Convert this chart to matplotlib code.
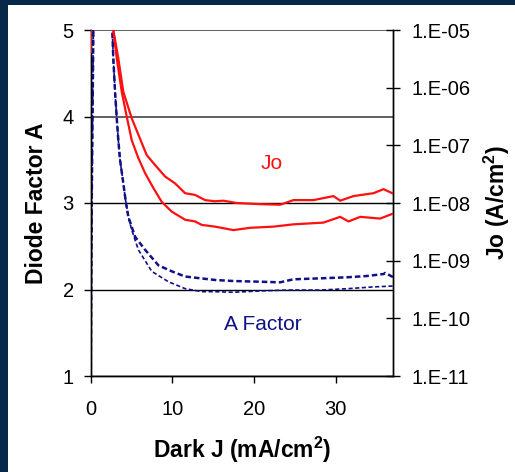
import matplotlib
matplotlib.use("Agg")
import matplotlib.pyplot as plt
import numpy as np
from matplotlib.patches import Rectangle
from matplotlib.ticker import FixedLocator, FuncFormatter, NullLocator

plt.rcParams['font.family'] = ['Liberation Sans', 'DejaVu Sans']
plt.rcParams['mathtext.fontset'] = 'custom'
plt.rcParams['mathtext.rm'] = 'Liberation Sans:bold'
plt.rcParams['mathtext.bf'] = 'Liberation Sans:bold'
plt.rcParams['mathtext.it'] = 'Liberation Sans:bold'

# ---- data ----
# A factor curves (left axis)
a1_x = [0.0, 0.15, 0.35, 0.45, 2.55, 2.67, 2.79, 3.00, 3.21, 3.40, 3.61, 4.01, 4.31, 4.63,
        5.45, 6.67, 8.30, 9.94, 11.57, 15.24, 17.48, 20.75, 23.19, 24.82, 28.08,
        31.36, 33.81, 35.84, 36.05, 37.06]
a1_y = [0.5, 3.0, 5.0, 7.0, 7.0, 5.0, 4.67, 4.29, 3.98, 3.73, 3.50, 3.23, 3.02, 2.84,
        2.61, 2.46, 2.28, 2.21, 2.15, 2.11, 2.098, 2.090, 2.083, 2.118, 2.129,
        2.141, 2.156, 2.179, 2.191, 2.141]
a2_x = [0.0, 0.15, 0.35, 0.45, 2.55, 2.67, 2.79, 3.00, 3.21, 3.40, 3.61, 4.01, 4.31, 4.63,
        5.04, 5.85, 7.49, 9.52, 11.57, 13.61, 15.24, 17.48, 20.75, 24.02, 28.08,
        31.36, 34.61, 37.06]
a2_y = [0.5, 3.0, 5.0, 7.0, 7.0, 5.0, 4.67, 4.29, 3.98, 3.73, 3.50, 3.23, 3.02, 2.84,
        2.69, 2.46, 2.21, 2.09, 2.01, 1.975, 1.975, 1.968, 1.983, 1.994, 1.994,
        2.009, 2.03, 2.04]

# Jo curves (right axis, log10 of A/cm2)
j1_x = [0.0, 0.15, 2.6, 2.79, 3.40, 4.01, 5.04, 6.27, 6.88, 7.89, 9.12, 10.34, 11.57,
        12.79, 14.02, 15.24, 16.25, 17.89, 20.75, 23.19, 24.82, 27.27, 29.72, 30.54,
        32.17, 34.61, 35.84, 37.06]
j1_log = [-5.38, -3.0, -3.0, -5.00, -5.49, -6.07, -6.53, -6.96, -7.17, -7.34, -7.54, -7.66,
          -7.83, -7.86, -7.95, -7.97, -7.96, -8.00, -8.02, -8.03, -7.95, -7.95, -7.88,
          -7.96, -7.88, -7.83, -7.76, -7.84]
j2_x = [0.0, 0.15, 2.6, 2.79, 3.21, 3.82, 4.43, 5.04, 5.85, 6.67, 7.69, 8.71, 9.94,
        11.57, 12.79, 13.61, 15.24, 17.48, 19.52, 22.37, 24.82, 28.49, 30.54, 31.56,
        32.99, 35.43, 37.06]
j2_log = [-5.38, -3.0, -3.0, -5.00, -5.49, -6.07, -6.50, -6.91, -7.22, -7.48, -7.74, -7.98,
          -8.15, -8.29, -8.32, -8.38, -8.41, -8.47, -8.43, -8.41, -8.37, -8.34, -8.24,
          -8.32, -8.24, -8.27, -8.18]

x_ticks = [0, 10, 20, 30]
a_ticks = [1, 2, 3, 4, 5]
jo_ticks = [1e-11, 1e-10, 1e-9, 1e-8, 1e-7, 1e-6, 1e-5]

# ---- figure ----
W, H = 515, 472
fig = plt.figure(figsize=(W / 100, H / 100), dpi=100)
fig.patch.set_facecolor('#08284a')
fig.patches.append(Rectangle((8 / W, 0), 1 - 8 / W, 1 - 5 / H, transform=fig.transFigure,
                             facecolor='white', edgecolor='none', zorder=-10))

L, R, T, B = 90.5, 393, 30, 376
ax = fig.add_axes([L / W, 1 - B / H, (R - L) / W, (B - T) / H])
ax.set_facecolor('none')
ax2 = ax.twinx()
ax.set_zorder(1)
ax2.set_zorder(2)

navy = '#101088'
red = '#ff1010'
ax.plot(a1_x, a1_y, color=navy, lw=1.8, ls=(0, (2.2, 1.2)), zorder=3)
ax.plot(a2_x, a2_y, color=navy, lw=1.2, ls=(0, (2.5, 1.5)), zorder=3)
ax2.plot(j1_x, 10 ** np.array(j1_log), color=red, lw=1.6, zorder=3)
ax2.plot(j2_x, 10 ** np.array(j2_log), color=red, lw=1.6, zorder=3)

ax.set_xlim(0, 37)
ax.set_ylim(1, 5)
ax2.set_yscale('log')
ax2.set_ylim(1e-11, 1e-5)

ax.xaxis.set_major_locator(FixedLocator(x_ticks))
ax.yaxis.set_major_locator(FixedLocator(a_ticks))
ax2.yaxis.set_major_locator(FixedLocator(jo_ticks))
ax2.yaxis.set_minor_locator(NullLocator())

def fmt(v, p):
    e = int(round(np.log10(v)))
    return '1.E-%02d' % (-e)
ax2.yaxis.set_major_formatter(FuncFormatter(fmt))

ax.yaxis.grid(True, color='black', lw=1.0, zorder=1)
ax.set_axisbelow(True)
for gl, v in zip(ax.get_ygridlines(), a_ticks):
    if v >= 4:
        gl.set_color('#606060')
        gl.set_linewidth(1.4)

for a in (ax, ax2):
    a.spines['top'].set_visible(False)
    for s in a.spines.values():
        s.set_color('black')
        s.set_linewidth(1.0)

ax.tick_params(axis='x', direction='out', length=5, width=1, pad=12, labelsize=14.5)
ax.tick_params(axis='y', direction='out', length=5, width=1, pad=7, labelsize=14.5)
ax2.tick_params(axis='y', direction='inout', length=10, width=1, pad=8, labelsize=14.5)

ax.set_xlabel('Dark J (mA/cm$^{2}$)', fontsize=16.5, fontweight='bold')
ax.set_ylabel('Diode Factor A', fontsize=16.5, fontweight='bold')
ax2.set_ylabel('Jo (A/cm$^{2}$)', fontsize=16.5, fontweight='bold')
ax.xaxis.label.set_va('center')
ax.xaxis.set_label_coords(0.5, -0.214)
ax.yaxis.label.set_va('center')
ax.yaxis.set_label_coords(-0.178, 0.5)
ax2.yaxis.label.set_va('center')
ax2.yaxis.set_label_coords(1.344, 0.5)

ax.text(22.2, 3.46, 'Jo', color=red, fontsize=15, ha='center', va='center')
ax.text(21.1, 1.59, 'A Factor', color=navy, fontsize=15, ha='center', va='center')

fig.savefig('out.png', dpi=100, facecolor=fig.get_facecolor())
